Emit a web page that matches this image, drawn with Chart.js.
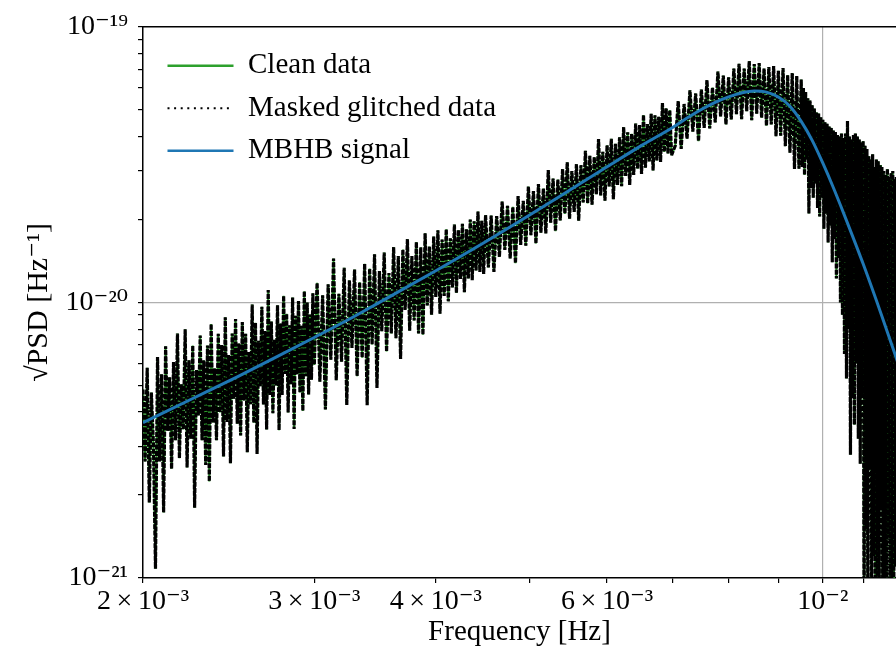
<!DOCTYPE html>
<html>
<head>
<meta charset="utf-8">
<script src="https://cdn.jsdelivr.net/npm/chart.js@4.4.1/dist/chart.umd.min.js"></script>
<style>
    html, body { margin: 0; padding: 0; background: #fff; }
    #wrap { width: 896px; height: 652px; position: relative; }
</style>
</head>
<body>
<div id="wrap"><canvas id="psd-chart"></canvas></div>
<script>
// frequency grid of the data, in mHz
const freqMHz = [
    2.00, 2.01, 2.02, 2.03, 2.04, 2.05, 2.06, 2.07, 2.08, 2.09, 2.10, 2.11, 2.12, 2.13, 2.14, 2.15, 2.16, 2.17, 2.18, 2.19,
    2.20, 2.21, 2.22, 2.23, 2.24, 2.25, 2.26, 2.27, 2.28, 2.29, 2.30, 2.31, 2.32, 2.33, 2.34, 2.35, 2.36, 2.37, 2.38, 2.39,
    2.40, 2.41, 2.42, 2.43, 2.44, 2.45, 2.46, 2.47, 2.48, 2.49, 2.50, 2.51, 2.52, 2.53, 2.54, 2.55, 2.56, 2.57, 2.58, 2.59,
    2.60, 2.61, 2.62, 2.63, 2.64, 2.65, 2.66, 2.67, 2.68, 2.69, 2.70, 2.71, 2.72, 2.73, 2.74, 2.75, 2.76, 2.77, 2.78, 2.79,
    2.80, 2.81, 2.82, 2.83, 2.84, 2.85, 2.86, 2.87, 2.88, 2.89, 2.90, 2.91, 2.92, 2.93, 2.94, 2.95, 2.96, 2.97, 2.98, 2.99,
    3.00,
    3.02, 3.04, 3.06, 3.08, 3.10, 3.12, 3.14, 3.16, 3.18, 3.20, 3.22, 3.24, 3.26, 3.28, 3.30, 3.32, 3.34, 3.36, 3.38, 3.40,
    3.42, 3.44, 3.46, 3.48, 3.50, 3.52, 3.54, 3.56, 3.58, 3.60, 3.62, 3.64, 3.66, 3.68, 3.70, 3.72, 3.74, 3.76, 3.78, 3.80,
    3.82, 3.84, 3.86, 3.88, 3.90, 3.92, 3.94, 3.96, 3.98, 4.00, 4.02, 4.04, 4.06, 4.08, 4.10, 4.12, 4.14, 4.16, 4.18, 4.20,
    4.22, 4.24, 4.26, 4.28, 4.30, 4.32, 4.34, 4.36, 4.38, 4.40, 4.42, 4.44, 4.46, 4.48, 4.50,
    4.53, 4.56, 4.59, 4.62, 4.65, 4.68, 4.71, 4.74, 4.77, 4.80, 4.83, 4.86, 4.89, 4.92, 4.95, 4.98, 5.01, 5.04, 5.07, 5.10,
    5.13, 5.16, 5.19, 5.22, 5.25, 5.28, 5.31, 5.34, 5.37, 5.40, 5.43, 5.46, 5.49, 5.52, 5.55, 5.58, 5.61, 5.64, 5.67, 5.70,
    5.73, 5.76, 5.79, 5.82, 5.85, 5.88, 5.91, 5.94, 5.97, 6.00, 6.03, 6.06, 6.09, 6.12, 6.15, 6.18, 6.21, 6.24, 6.27, 6.30,
    6.33, 6.36, 6.39, 6.42, 6.45, 6.48, 6.51, 6.54, 6.57, 6.60, 6.63, 6.66, 6.69, 6.72, 6.75, 6.78, 6.81, 6.84, 6.87, 6.90,
    6.93, 6.96, 6.99,
    7.05, 7.10, 7.15, 7.20, 7.25, 7.30, 7.35, 7.40, 7.45, 7.50, 7.55, 7.60, 7.65, 7.70, 7.75, 7.80, 7.85, 7.90, 7.95, 8.00,
    8.05, 8.10, 8.15, 8.20, 8.25, 8.30, 8.35, 8.40, 8.45, 8.50, 8.55, 8.60, 8.65, 8.70, 8.75, 8.80, 8.85, 8.90, 8.95, 9.00,
    9.05, 9.10, 9.15, 9.20, 9.25, 9.30, 9.35, 9.40, 9.45, 9.50,
    9.525, 9.55, 9.575, 9.6, 9.625, 9.65, 9.675, 9.7, 9.725, 9.75, 9.775, 9.8, 9.825, 9.85, 9.875, 9.9, 9.925, 9.95, 9.975, 10.0,
    10.025, 10.05, 10.075, 10.1, 10.125, 10.15, 10.175, 10.2, 10.225, 10.25, 10.275, 10.3, 10.325, 10.35, 10.375, 10.4, 10.425, 10.45, 10.475, 10.5,
    10.525, 10.55, 10.575, 10.6, 10.625, 10.65, 10.675, 10.7, 10.725, 10.75, 10.775, 10.8, 10.825, 10.85, 10.875, 10.9, 10.925, 10.95, 10.975, 11.0,
    11.025, 11.05, 11.075, 11.1, 11.125, 11.15, 11.175, 11.2, 11.225, 11.25, 11.275, 11.3, 11.325, 11.35, 11.375, 11.4, 11.425, 11.45, 11.475, 11.5,
    11.525, 11.55, 11.575, 11.6, 11.625, 11.65, 11.675, 11.7, 11.725, 11.75, 11.775, 11.8, 11.825, 11.85, 11.875, 11.9, 11.925, 11.95
];

// sqrt(PSD) of the data, in units of 1e-21 Hz^-1 (clean and masked series overlap)
const psdData = [
    4.83, 2.65, 5.79, 1.88, 4.71, 3.06, 1.08, 6.34, 2.65, 5.48, 1.73, 6.93, 3.42, 5.35, 2.49, 6.08, 3.16, 7.71, 2.72, 5.04,
    3.46, 7.99, 2.52, 6.16, 3.20, 6.98, 1.80, 5.68, 3.89, 7.58, 3.16, 6.17, 2.57, 6.97, 2.24, 8.35, 3.67, 5.76, 3.16, 7.69,
    3.99, 7.00, 2.76, 8.84, 3.68, 6.44, 2.61, 7.71, 4.47, 8.71, 3.63, 7.09, 3.29, 8.48, 4.41, 7.70, 2.86, 6.60, 4.27, 9.83,
    3.66, 8.44, 2.82, 7.25, 4.96, 9.65, 4.26, 7.87, 3.46, 11.09, 4.61, 8.53, 3.96, 7.32, 5.00, 9.76, 3.44, 8.39, 4.61, 10.58,
    5.50, 9.10, 3.99, 8.26, 5.05, 10.42, 3.47, 8.95, 5.49, 10.12, 4.71, 8.22, 4.04, 10.98, 5.40, 9.98, 4.63, 9.04, 5.24, 10.80,
    5.93,
    11.77, 5.16, 10.62, 4.09, 11.63, 6.19, 14.43, 5.22, 10.75, 6.09, 13.36, 4.24, 12.03, 6.83, 13.16, 5.40, 11.85, 6.30, 13.81, 4.24,
    13.26, 7.04, 14.96, 4.89, 13.00, 7.86, 15.17, 6.63, 12.79, 7.72, 15.88, 7.41, 14.74, 6.24, 15.55, 9.39, 16.96, 7.90, 14.73, 8.60,
    16.57, 7.72, 15.84, 7.63, 17.81, 9.75, 15.96, 9.02, 17.34, 10.46, 18.27, 9.09, 16.92, 10.55, 18.42, 10.09, 17.07, 11.34, 19.16, 10.83,
    18.31, 12.17, 19.27, 10.89, 18.41, 12.22, 19.98, 12.05, 19.70, 13.07, 21.37, 12.89, 19.76, 12.69, 20.73,
    13.40, 20.65, 12.91, 20.56, 14.62, 23.24, 15.49, 22.39, 14.44, 22.23, 13.87, 24.29, 16.18, 23.34, 16.05, 26.31, 17.52, 25.35, 16.36, 26.88,
    17.92, 25.89, 17.81, 30.20, 19.48, 28.14, 18.14, 27.91, 19.82, 30.49, 20.96, 32.23, 20.12, 29.97, 21.29, 31.73, 19.80, 31.46, 23.06, 35.47,
    22.86, 34.05, 22.64, 33.70, 24.69, 39.18, 24.44, 35.20, 23.40, 37.13, 26.34, 39.22, 23.68, 37.62, 26.67, 39.70, 26.40, 43.23, 28.76, 41.42,
    26.66, 40.94, 29.00, 44.54, 30.56, 44.00, 29.24, 47.88, 30.82, 44.40, 32.50, 48.32, 30.12, 47.77, 32.75, 47.16, 32.35, 52.93, 35.15, 50.60,
    34.68, 49.90, 34.22,
    36.99, 53.72, 36.06, 52.47, 39.27, 58.77, 41.68, 57.28, 38.45, 59.15, 42.97, 64.00, 42.75, 60.23, 44.99, 68.84, 47.31, 66.55, 44.27, 65.62,
    46.12, 70.50, 48.21, 73.43, 46.24, 70.48, 49.45, 75.14, 45.79, 73.31, 48.40, 73.79, 46.78, 70.48, 43.75, 71.49, 44.24, 72.09, 40.07, 69.21,
    40.28, 70.79, 36.90, 66.81, 34.93, 67.93, 30.49, 66.23, 30.54, 64.43,
    31, 60, 29, 58, 33, 55, 21, 54, 26, 52, 24, 50.5, 27, 49, 22, 48.5, 20.5, 47, 24, 46,
    18.5, 45, 21, 44.5, 16.5, 43.5, 19, 43, 14, 42, 17, 41.5, 12.2, 40.5, 14.5, 40, 10, 41, 9, 39.5,
    6.5, 41, 5.3, 45.5, 8, 40, 2.8, 39, 4.5, 40.5, 3.6, 41, 6, 40, 3.2, 39, 2.6, 38, 4.5, 38.5,
    0.5, 37, 1.5, 36, 0.45, 34, 2.5, 33, 0.6, 34.5, 1.2, 31, 0.4, 33, 0.8, 32.5, 0.5, 31.5, 1.8, 31,
    0.45, 30, 0.9, 29, 0.35, 30.5, 1.4, 28.5, 0.5, 29.5, 0.7, 30, 0.4, 28, 1.1, 28.5, 0.5, 27
];

// MBHB signal
const signalFreq = [2.0, 2.25, 2.5, 2.75, 3.0, 3.25, 3.5, 4.0, 4.5, 5.0, 5.5, 6.0, 6.5, 7.0, 7.25, 7.5, 7.75,
    8.0, 8.25, 8.5, 8.75, 9.0, 9.25, 9.5, 9.75, 10.0, 10.25, 10.5, 11.0, 11.5, 12.0];
const signalPsd = [3.66, 4.48, 5.37, 6.37, 7.46, 8.65, 10.0, 13.03, 16.60, 20.80, 25.64, 31.05, 36.98, 43.05, 46.67, 50.12, 53.21,
    55.72, 57.54, 58.48, 57.94, 55.59, 51.52, 45.39, 38.73, 31.99, 26.12, 21.13, 13.80, 8.91, 5.75];

// ticks
const xTickVals = [2, 3, 4, 5, 6, 7, 8, 9, 10, 11];
const xTickLabels = ['2\u2009×\u200910⁻³', '3\u2009×\u200910⁻³', '4\u2009×\u200910⁻³', '', '6\u2009×\u200910⁻³', '', '', '', '10⁻²', ''];
const yTickVals = [1, 2, 3, 4, 5, 6, 7, 8, 9, 10, 20, 30, 40, 50, 60, 70, 80, 90, 100];
const yMajor = [1, 10, 100];
const yMajorLabels = ['10⁻²¹', '10⁻²⁰', '10⁻¹⁹'];

const legendDash = [[], [2, 4.6], []];

Chart.defaults.font.family = "'Liberation Serif', 'Times New Roman', 'DejaVu Serif', serif";
Chart.defaults.color = '#000';

function toPoints(xs, ys) {
    return xs.map((x, i) => ({ x: x, y: ys[i] }));
}

// only the 10^-2 Hz and 10^-20 lines get a grid line
function gridColor(ctx) {
    return ctx.tick && ctx.tick.value === 10 ? '#b0b0b0' : 'rgba(0,0,0,0)';
}

// move the legend a bit into the plot, like the original
const legendOffset = {
    id: 'legendOffset',
    afterLayout(chart) {
        chart.legend.left = chart.chartArea.left + 11;
        chart.legend.top = chart.chartArea.top + 11;
    }
};

const dataPoints = toPoints(freqMHz, psdData);

new Chart(document.getElementById('psd-chart'), {
    type: 'line',
    data: {
        datasets: [
            {
                label: 'Clean data',
                data: dataPoints,
                borderColor: '#2ca02c',
                borderWidth: 2,
                borderJoinStyle: 'bevel',
                pointRadius: 0,
                order: 3
            },
            {
                label: 'Masked glitched data',
                data: dataPoints,
                borderColor: '#000000',
                borderWidth: 3.2,
                borderDash: [5, 1.3],
                borderJoinStyle: 'bevel',
                pointRadius: 0,
                order: 2
            },
            {
                label: 'MBHB signal',
                data: toPoints(signalFreq, signalPsd),
                borderColor: '#1f77b4',
                borderWidth: 3,
                cubicInterpolationMode: 'monotone',
                pointRadius: 0,
                order: 1
            }
        ]
    },
    options: {
        responsive: true,
        maintainAspectRatio: false,
        devicePixelRatio: 1,
        animation: false,
        layout: { padding: { top: 23, right: 0, bottom: 0, left: 0 } },
        plugins: {
            tooltip: { enabled: false },
            legend: {
                position: 'chartArea',
                align: 'start',
                labels: {
                    font: { size: 29 },
                    color: '#000',
                    usePointStyle: true,
                    pointStyle: 'line',
                    pointStyleWidth: 66,
                    padding: 13.5,
                    generateLabels: (chart) => chart.data.datasets.map((ds, i) => ({
                        text: ds.label,
                        strokeStyle: ds.borderColor,
                        fillStyle: ds.borderColor,
                        lineWidth: i === 1 ? 2 : 2.5,
                        lineDash: legendDash[i],
                        pointStyle: 'line',
                        fontColor: '#000',
                        hidden: false,
                        datasetIndex: i
                    }))
                }
            }
        },
        scales: {
            x: {
                type: 'logarithmic',
                min: 2,
                max: 11.89,
                afterBuildTicks: (scale) => { scale.ticks = xTickVals.map(v => ({ value: v })); },
                afterFit: (scale) => { scale.height = 74; },
                ticks: {
                    autoSkip: false,
                    maxRotation: 0,
                    padding: 2,
                    font: { size: 28 },
                    callback: (value) => {
                        const i = xTickVals.indexOf(value);
                        return i >= 0 ? xTickLabels[i] : '';
                    }
                },
                grid: { color: gridColor, lineWidth: 1.2, tickColor: '#000', tickLength: 5, tickWidth: 1.2 },
                border: { display: true, color: '#000', width: 1.5 },
                title: { display: true, text: 'Frequency [Hz]', font: { size: 29 }, padding: { top: 0, bottom: 2 } }
            },
            y: {
                type: 'logarithmic',
                min: 1,
                max: 100,
                afterBuildTicks: (scale) => { scale.ticks = yTickVals.map(v => ({ value: v })); },
                afterFit: (scale) => { scale.width = 143; },
                ticks: {
                    autoSkip: false,
                    padding: 10,
                    font: { size: 28 },
                    callback: (value) => {
                        const i = yMajor.indexOf(value);
                        return i >= 0 ? yMajorLabels[i] : '';
                    }
                },
                grid: { color: gridColor, lineWidth: 1.2, tickColor: '#000', tickLength: 5, tickWidth: 1.2 },
                border: { display: true, color: '#000', width: 1.5 },
                title: { display: true, text: '√PSD [Hz⁻¹]', font: { size: 30 }, padding: { top: 21, bottom: 0 } }
            },
            xTop: {
                type: 'linear',
                position: 'top',
                min: 0,
                max: 1,
                ticks: { display: false },
                grid: { display: false, drawTicks: false },
                border: { display: true, color: '#000', width: 1.5 }
            }
        }
    },
    plugins: [legendOffset]
});
</script>
</body>
</html>
